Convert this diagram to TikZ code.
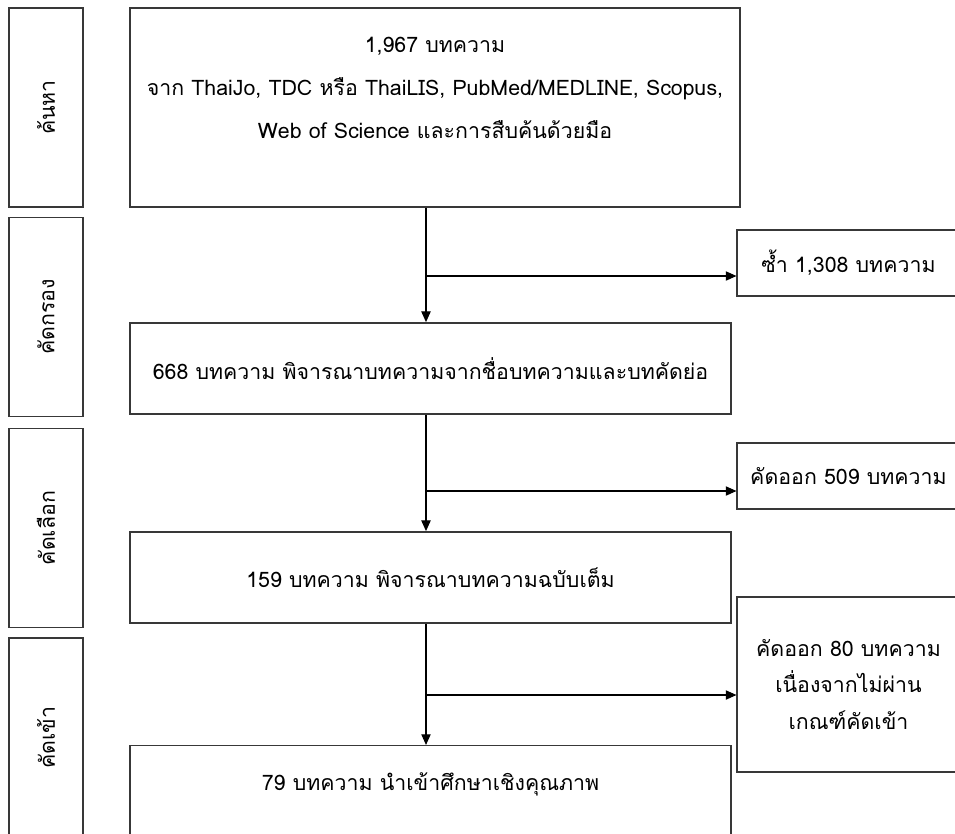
\documentclass[tikz,border=0pt]{standalone}
\usepackage{fontspec}
\setmainfont[Script=Thai]{Loma}
\usetikzlibrary{arrows.meta}

\newcommand{\liftup}[2]{\raisebox{#1}[0pt][0pt]{\begin{tabular}{@{}c@{}}#2\end{tabular}}}

\tikzset{
  box/.style={draw=black!78, line width=1.1pt, align=center, inner sep=0pt,
    font=\fontsize{16}{32}\selectfont},
  stagebox/.style={box, rotate=90, minimum width=149pt, minimum height=55.5pt},
  mainbox/.style={box, minimum width=451pt, minimum height=68.5pt},
  outbox/.style={box, minimum width=167pt, minimum height=49.5pt},
  flow/.style={-{Triangle[length=8pt,width=7pt]}, line width=0.8pt}
}

\begin{document}
\begin{tikzpicture}[x=0.75pt, y=-0.75pt]
  \useasboundingbox (0,0) rectangle (955,833);
  \clip (0,0) rectangle (955,833);

  % stages on the left
  \node[stagebox] (s1) at (46,107.5) {ค้นหา};
  \node[stagebox] (s2) at (46,317) {คัดกรอง};
  \node[stagebox] (s3) at (46,528) {คัดเลือก};
  \node[stagebox] (s4) at (46,737.5) {คัดเข้า};

  % main flow
  \node[mainbox, minimum width=457.5pt, minimum height=149.25pt] (b1) at (435,107.5)
    {\liftup{11pt}{1,967 บทความ\\ จาก ThaiJo, TDC หรือ ThaiLIS, PubMed/MEDLINE, Scopus,\\ Web of Science และการสืบค้นด้วยมือ}};
  \node[mainbox] (b2) at (430.5,368.5) {668 บทความ พิจารณาบทความจากชื่อบทความและบทคัดย่อ};
  \node[mainbox] (b3) at (430.5,577.5) {159 บทความ พิจารณาบทความฉบับเต็ม};
  \node[mainbox, minimum height=71pt] (b4) at (430.5,793)
    {\raisebox{2.25pt}[0pt][0pt]{79 บทความ นำเข้าศึกษาเชิงคุณภาพ}};

  % excluded
  \node[outbox] (e1) at (848.5,263) {ซ้ำ 1,308 บทความ};
  \node[outbox] (e2) at (848.5,476) {คัดออก 509 บทความ};
  \node[outbox, minimum height=131pt, font=\fontsize{16}{27.5}\selectfont] (e3) at (848.5,684.5)
    {คัดออก 80 บทความ\\ เนื่องจากไม่ผ่าน\\ เกณฑ์คัดเข้า};

  % connectors
  \coordinate (j1) at (426,276);
  \coordinate (j2) at (426,491);
  \coordinate (j3) at (426,695);
  \draw[flow] (b1.south -| j1) -- (b2.north -| j1);
  \draw[flow] (j1) -- (j1 -| e1.west);
  \draw[flow] (b2.south -| j2) -- (b3.north -| j2);
  \draw[flow] (j2) -- (j2 -| e2.west);
  \draw[flow] (b3.south -| j3) -- (b4.north -| j3);
  \draw[flow] (j3) -- (j3 -| e3.west);
\end{tikzpicture}
\end{document}
